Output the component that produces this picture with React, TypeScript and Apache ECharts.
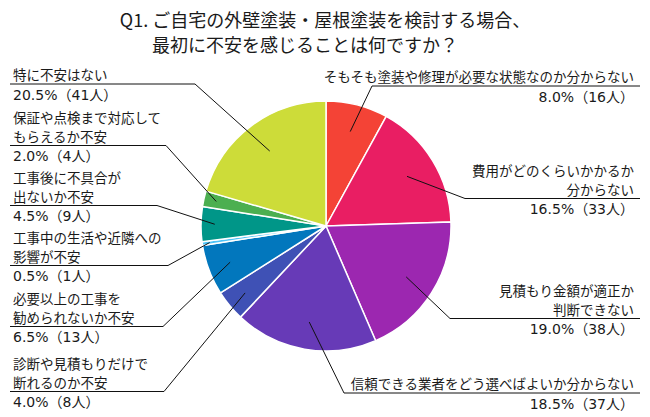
import React, { useEffect, useRef } from 'react';
import * as echarts from 'echarts';

const titleLines = [
  'Q1. ご自宅の外壁塗装・屋根塗装を検討する場合、',
  '最初に不安を感じることは何ですか？',
];

// clockwise from 12 o'clock
const categories = [
  'そもそも塗装や修理が必要な状態なのか分からない',
  '費用がどのくらいかかるか\n分からない',
  '見積もり金額が適正か\n判断できない',
  '信頼できる業者をどう選べばよいか分からない',
  '診断や見積もりだけで\n断れるのか不安',
  '必要以上の工事を\n勧められないか不安',
  '工事中の生活や近隣への\n影響が不安',
  '工事後に不具合が\n出ないか不安',
  '保証や点検まで対応して\nもらえるか不安',
  '特に不安はない',
];
const counts = [16, 33, 38, 37, 8, 13, 1, 9, 4, 41];
const percents = [8.0, 16.5, 19.0, 18.5, 4.0, 6.5, 0.5, 4.5, 2.0, 20.5];
const colors = [
  '#F44336', '#E91E63', '#9C27B0', '#673AB7', '#3F51B5',
  '#0277BD', '#4FC3F7', '#009688', '#4CAF50', '#CDDC39',
];

// label placement (layout only)
const labelLayouts = [
  { side: 'right', top: 67, lineX: 372, k: 0.78 },
  { side: 'right', top: 161, lineX: 465, k: 0.76 },
  { side: 'right', top: 281, lineX: 450, k: 0.76 },
  { side: 'right', top: 374, lineX: 344, k: 0.78 },
  { side: 'left', top: 354, lineX: 164, k: 0.84 },
  { side: 'left', top: 289, lineX: 163, k: 0.82 },
  { side: 'left', top: 228, lineX: 168, k: 0.94 },
  { side: 'left', top: 168, lineX: 157, k: 0.89 },
  { side: 'left', top: 108, lineX: 166, k: 0.9 },
  { side: 'left', top: 65, lineX: 195, k: 0.75 },
];

const FONT = '"Noto Sans CJK JP", "Noto Sans", sans-serif';
const NUM_FONT = '"DejaVu Sans", "Noto Sans CJK JP", sans-serif';
const CX = 326;
const CY = 226;
const R = 125;
const LH = 18.5;

export default function App() {
  const ref = useRef<HTMLDivElement>(null);
  useEffect(() => {
    const chart = echarts.init(ref.current as HTMLDivElement, null, { renderer: 'svg' });
    const pieData = categories.map((n, i) => ({
      name: n,
      value: counts[i],
      itemStyle: { color: colors[i] },
    }));
    const titleStyle = {
      fontFamily: FONT,
      fontSize: 18,
      fontWeight: 'normal',
      color: '#1a1a1a',
      lineHeight: 20,
    };
    chart.setOption({
      animation: false,
      title: [
        { text: titleLines[0], left: 'center', top: 4, textStyle: titleStyle },
        { text: titleLines[1], left: 147, top: 29, textStyle: titleStyle },
      ],
      series: [
        {
          type: 'pie',
          z: 2,
          center: [CX, CY],
          radius: R,
          startAngle: 90,
          clockwise: true,
          data: pieData,
          itemStyle: { borderColor: '#ffffff', borderWidth: 1.5 },
          emphasis: { disabled: true },
          label: { show: false },
          labelLine: { show: false },
        },
        {
          type: 'pie',
          z: 10,
          silent: true,
          center: [CX, CY],
          radius: R,
          startAngle: 90,
          clockwise: true,
          avoidLabelOverlap: false,
          data: pieData.map((d) => ({ ...d, itemStyle: { color: 'rgba(0,0,0,0)' } })),
          itemStyle: { borderWidth: 0 },
          emphasis: { disabled: true },
          label: {
            show: true,
            position: 'outside',
            color: '#1a1a1a',
            fontFamily: FONT,
            fontSize: 13.5,
            formatter: (p: any) => {
              const i = p.dataIndex;
              const nameLines = categories[i]
                .split('\n')
                .map((l) => `{n|${l}}`)
                .join('\n');
              return `${nameLines}\n{p|${percents[i].toFixed(1)}%（${counts[i]}人）}`;
            },
            rich: {
              n: { fontFamily: FONT, fontSize: 13.5, color: '#1a1a1a', lineHeight: LH },
              p: { fontFamily: NUM_FONT, fontSize: 14, color: '#1a1a1a', lineHeight: 22 },
            },
          },
          labelLine: {
            show: true,
            showAbove: true,
            length: 10,
            length2: 10,
            lineStyle: { color: '#111', width: 1 },
          },
          labelLayout: (params: any) => {
            const i = params.dataIndex;
            const L = labelLayouts[i];
            const nLines = categories[i].split('\n').length;
            const uy = L.top + nLines * LH + 0.5;
            const pts = params.labelLinePoints;
            const p0 = pts && pts[0] ? pts[0] : [CX, CY];
            const sx = CX + (p0[0] - CX) * L.k;
            const sy = CY + (p0[1] - CY) * L.k;
            const left = L.side === 'left';
            return {
              x: left ? 13 : 634,
              y: L.top,
              align: left ? 'left' : 'right',
              verticalAlign: 'top',
              labelLinePoints: [
                [sx, sy],
                [L.lineX, uy],
                [left ? 10 : 640, uy],
              ],
            };
          },
        },
      ],
    });
    return () => chart.dispose();
  }, []);
  return (
    <div
      ref={ref}
      style={{ position: 'fixed', left: 0, top: 0, width: 650, height: 417, background: '#fff' }}
    />
  );
}
